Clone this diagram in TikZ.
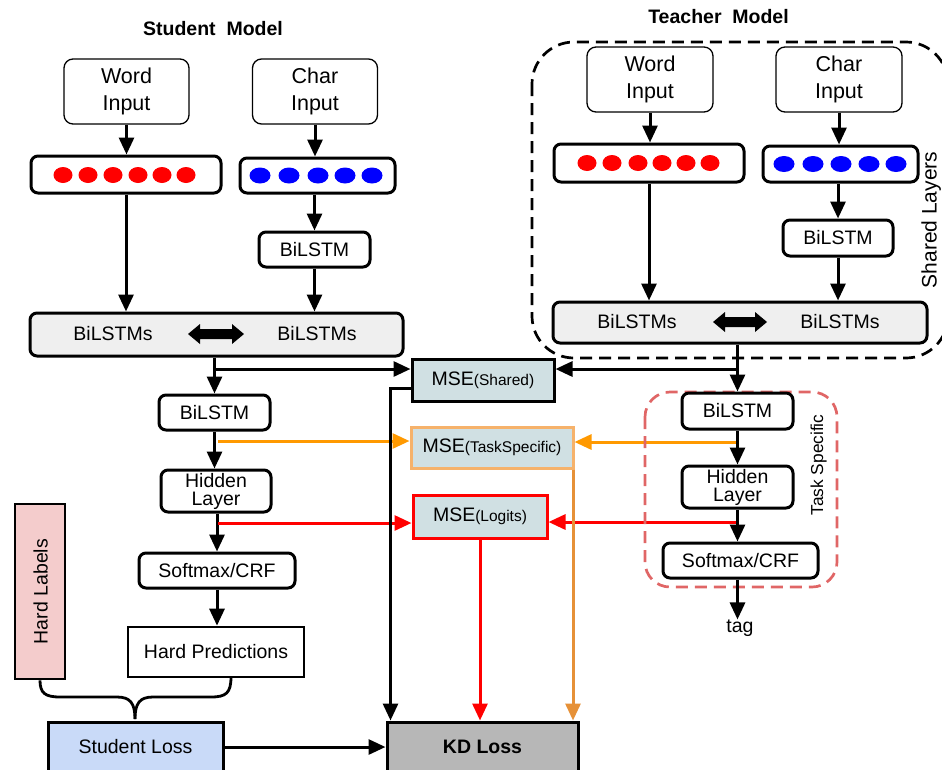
\documentclass[tikz,border=0pt]{standalone}
\usepackage{fontspec}
\setmainfont{Liberation Sans}
\usetikzlibrary{arrows.meta}
\definecolor{barfill}{HTML}{EFEFEF}
\definecolor{msefill}{HTML}{D0E0E3}
\definecolor{tsborder}{HTML}{F6B26B}
\definecolor{orangeline}{HTML}{FF9900}
\definecolor{orangedown}{HTML}{E69138}
\definecolor{pinkfill}{HTML}{F4CCCC}
\definecolor{bluefill}{HTML}{C9DAF8}
\definecolor{kdfill}{HTML}{B7B7B7}
\definecolor{taskred}{HTML}{E06666}
\definecolor{dotred}{HTML}{FF0000}
\definecolor{dotblue}{HTML}{0000FF}
\begin{document}
\begin{tikzpicture}[x=1pt,y=-1pt,
  inbox/.style={draw, line width=1.3pt, rounded corners=9pt, fill=white, inner sep=0pt, align=center,
    font=\fontsize{21.5}{27}\selectfont},
  tbox/.style={draw, line width=3pt, rounded corners=7pt, fill=white, inner sep=0pt, align=center,
    font=\fontsize{19.5}{18}\selectfont},
  barbox/.style={draw, line width=3pt, rounded corners=7pt, fill=white, inner sep=0pt},
  sqbox/.style={draw, line width=2.7pt, inner sep=0pt, align=center, font=\fontsize{19.5}{22}\selectfont},
  msebox/.style={draw, line width=3pt, fill=msefill, inner sep=0pt},
  lbl/.style={inner sep=0pt, font=\fontsize{19.5}{22}\selectfont},
  ttl/.style={inner sep=0pt, font=\fontsize{19.5}{22}\selectfont\bfseries},
  arr/.style={line width=3pt, -{Triangle[length=17pt,width=15pt]}},
  ln/.style={line width=2.8pt},
  rdot/.style={fill=dotred},
  bdot/.style={fill=dotblue},
  dbl/.style={fill=black}
]
\useasboundingbox (0,0) rectangle (942,769);

% ---------------- Student ----------------
\node[ttl] (stitle) at (213,29) {Student\ \ Model};
\node[inbox, minimum width=125pt, minimum height=65pt] (swi) at (126.5,91.5) {Word\\Input};
\node[inbox, minimum width=125pt, minimum height=65pt] (sci) at (315,91.5) {Char\\Input};
\node[barbox, minimum width=190pt, minimum height=37pt] (swe) at (126,174.5) {};
\foreach \x in {63,88,113,138,162,186} \fill[rdot] (\x,175) ellipse [x radius=9.5, y radius=8];
\node[barbox, minimum width=155pt, minimum height=35pt] (sce) at (317.5,175.5) {};
\foreach \x in {260,289,318,345,372} \fill[bdot] (\x,175.5) ellipse [x radius=10.5, y radius=8];
\node[tbox, minimum width=111pt, minimum height=35pt] (scb) at (314.5,249.5) {BiLSTM};
\node[barbox, fill=barfill, minimum width=373pt, minimum height=43pt] (sbars) at (216.5,334.5) {};
\node[lbl] (sbl1) at (113,334) {BiLSTMs};
\node[lbl] (sbl2) at (317,334) {BiLSTMs};
\fill[dbl] (188,334) -- (200,324) -- (200,329) -- (232,329) -- (232,324) -- (244,334) -- (232,344) -- (232,339) -- (200,339) -- (200,344) -- cycle;
\node[tbox, minimum width=111pt, minimum height=35pt] (sbl) at (214.5,412.5) {BiLSTM};
\node[tbox, minimum width=110pt, minimum height=42pt] (shl) at (216,491) {Hidden\\Layer};
\node[tbox, minimum width=156pt, minimum height=35pt] (ssm) at (217,570.5) {Softmax/CRF};
\node[sqbox, fill=white, minimum width=176pt, minimum height=50pt] (shp) at (216,652) {Hard Predictions};
\node[sqbox, fill=pinkfill, minimum width=50pt, minimum height=175pt] (hlab) at (40,591.5) {};
\node[lbl, rotate=90, anchor=base] (hlabt) at (47.5,591.5) {Hard Labels};
\node[sqbox, line width=3pt, fill=bluefill, minimum width=175pt, minimum height=50pt] (sloss) at (135.5,747) {Student Loss};
\node[sqbox, line width=3pt, fill=kdfill, minimum width=191pt, minimum height=50pt, font=\fontsize{19.5}{22}\selectfont\bfseries] (kd) at (482.5,747) {KD Loss};

% student arrows
\draw[arr] (swi.south) -- (swe.north -| swi.south);
\draw[arr] (sci.south) -- (sce.north -| sci.south);
\draw[arr] (sce.south -| scb.north) -- (scb.north);
\draw[arr] (scb.south) -- (sbars.north -| scb.south);
\draw[arr] (swe.south) -- (sbars.north -| swe.south);
\draw[arr] (sbars.south -| sbl.north) -- (sbl.north);
\draw[arr] (sbl.south) -- (shl.north -| sbl.south);
\draw[arr] (shl.south -| ssm.north) -- (ssm.north);
\draw[arr] (ssm.south) -- (shp.north -| ssm.south);

% brace
\draw[ln] (hlab.south) .. controls (40,693) and (45,697) .. (60,697) -- (117,697)
   .. controls (130,697) and (135,703) .. (135,719);
\draw[ln] (231,677) .. controls (231,693) and (226,697) .. (211,697) -- (153,697)
   .. controls (140,697) and (135,703) .. (135,719);

% ---------------- MSE boxes ----------------
\node[msebox, minimum width=142pt, minimum height=42pt] (mses) at (483,380)
  {\fontsize{19.5}{22}\selectfont MSE\fontsize{15.5}{18}\selectfont(Shared)};
\node[msebox, draw=tsborder, minimum width=162pt, minimum height=41pt] (msets) at (492,447.5)
  {\fontsize{19.5}{22}\selectfont MSE\fontsize{15.5}{18}\selectfont(TaskSpecific)};
\node[msebox, draw=dotred, minimum width=134pt, minimum height=43pt] (msel) at (480,516.5)
  {\fontsize{19.5}{22}\selectfont MSE\fontsize{15.5}{18}\selectfont(Logits)};

\coordinate (sbr1) at (215,369);
\coordinate (sbr2) at (218,441);
\coordinate (sbr3) at (218,523);
\coordinate (tbr1) at (738,369);
\coordinate (tbr2) at (738,442);
\coordinate (tbr3) at (738,522);
\coordinate (msesout) at (412,388);

\draw[arr] (sbr1) -- (mses.west |- sbr1);
\draw[arr, orangeline] (sbr2) -- (msets.west |- sbr2);
\draw[arr, dotred] (sbr3) -- (msel.west |- sbr3);
\draw[arr] (tbr1) -- (mses.east |- tbr1);
\draw[arr, orangeline] (tbr2) -- (msets.east |- tbr2);
\draw[arr, dotred] (tbr3) -- (msel.east |- tbr3);

\draw[arr] (msesout) -| ([xshift=5pt]kd.north west);
\draw[arr, dotred] (msel.south) -- (msel.south |- kd.north);
\draw[arr, orangedown] ([xshift=-1.5pt]msets.south east) -- ([xshift=-1.5pt]msets.south east |- kd.north);
\draw[arr] (sloss.east) -- (kd.west);

% ---------------- Teacher ----------------
\node[ttl] (ttitle) at (718.5,17) {Teacher\ \ Model};
\begin{scope}
\clip (0,0) rectangle (942,769);
\draw[line width=2.7pt, dash pattern=on 12pt off 7pt, rounded corners=42pt] (532,42) rectangle (948,358);
\end{scope}
\node[lbl, rotate=90, anchor=base, font=\fontsize{21}{24}\selectfont] (shared) at (936.5,220) {Shared Layers};
\node[inbox, minimum width=126pt, minimum height=65pt] (twi) at (650,79.5) {Word\\Input};
\node[inbox, minimum width=126pt, minimum height=65pt] (tci) at (839,79.5) {Char\\Input};
\node[barbox, minimum width=190pt, minimum height=38pt] (twe) at (649,163) {};
\foreach \x in {587,612,638,662,686,710} \fill[rdot] (\x,163) ellipse [x radius=9.5, y radius=8];
\node[barbox, minimum width=155pt, minimum height=36pt] (tce) at (840.5,164) {};
\foreach \x in {784,813,841,869,896} \fill[bdot] (\x,164) ellipse [x radius=10.5, y radius=8];
\node[tbox, minimum width=110pt, minimum height=36pt] (tcb) at (838,238) {BiLSTM};
\node[barbox, fill=barfill, minimum width=374pt, minimum height=41pt] (tbars) at (740,322.5) {};
\node[lbl] (tbl1) at (637,322) {BiLSTMs};
\node[lbl] (tbl2) at (840,322) {BiLSTMs};
\fill[dbl] (713,322) -- (725,312) -- (725,317) -- (755,317) -- (755,312) -- (767,322) -- (755,332) -- (755,327) -- (725,327) -- (725,332) -- cycle;

\draw[line width=2.7pt, taskred, dash pattern=on 12pt off 7pt, rounded corners=25pt] (645,392) rectangle (837,587);
\node[lbl, rotate=90, anchor=base, font=\fontsize{17.3}{20}\selectfont] (tasks) at (823,465) {Task Specific};
\node[tbox, minimum width=111pt, minimum height=36pt] (tbl) at (737.5,411) {BiLSTM};
\node[tbox, minimum width=111pt, minimum height=42pt] (thl) at (737.5,487) {Hidden\\Layer};
\node[tbox, minimum width=155pt, minimum height=35pt] (tsm) at (740.5,560.5) {Softmax/CRF};
\node[lbl] (tag) at (740,628) {tag};

% teacher arrows
\draw[arr] (twi.south) -- (twe.north -| twi.south);
\draw[arr] (tci.south) -- (tce.north -| tci.south);
\draw[arr] (twe.south) -- (tbars.north -| twe.south);
\draw[arr] (tce.south -| tcb.north) -- (tcb.north);
\draw[arr] (tcb.south) -- (tbars.north -| tcb.south);
\draw[arr] (tbars.south -| tbl.north) -- (tbl.north);
\draw[arr] (tbl.south) -- (thl.north -| tbl.south);
\draw[arr] (thl.south) -- (tsm.north -| thl.south);
\draw[arr] (tsm.south -| tbl.south) -- (tag.north -| tbl.south);
\end{tikzpicture}
\end{document}
